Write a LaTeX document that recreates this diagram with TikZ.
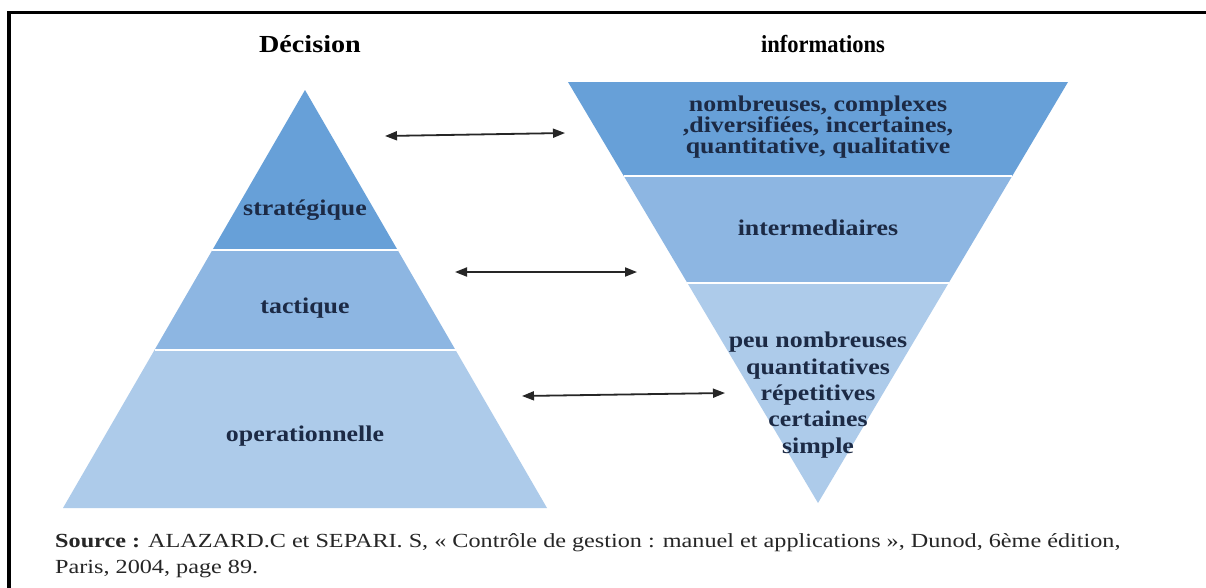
\documentclass[tikz,border=0pt]{standalone}
\usepackage{fontspec}
\setmainfont{Liberation Serif}
\newfontfamily\wideserif{Liberation Serif}[FakeStretch=1.15]
\newfontfamily\narrowserif{Liberation Serif}[FakeStretch=0.92]
\newfontfamily\sourceserif{Liberation Serif}[FakeStretch=1.21]
\usetikzlibrary{arrows.meta}
\definecolor{layerdark}{HTML}{67A0D8}
\definecolor{layermid}{HTML}{8DB6E2}
\definecolor{layerlight}{HTML}{ADCBEA}
\definecolor{labelink}{HTML}{1C2A45}
\begin{document}
\begin{tikzpicture}[x=1pt,y=-1pt,
  divider/.style={white,line width=2.5pt},
  lbl/.style={inner sep=0pt,text=labelink,font=\wideserif\bfseries\fontsize{22.5}{19}\selectfont,align=center},
  title/.style={inner sep=0pt,text=black,font=\wideserif\bfseries\fontsize{24.5}{26}\selectfont},
  srctext/.style={anchor=base west,inner sep=0pt,font=\sourceserif\fontsize{20}{26}\selectfont,text=black!85},
  link/.style={{Triangle[length=12pt,width=9pt]}-{Triangle[length=12pt,width=9pt]},line width=1.8pt,black!85}]
\useasboundingbox (0,0) rectangle (1206,587);
\fill[white] (0,0) rectangle (1206,587);

% frame
\draw[line width=3.5pt] (9,590) -- (9,12.5) -- (1210,12.5);

% decision pyramid
\fill[layerdark]  (305,90) -- (397.6,250) -- (212.4,250) -- cycle;
\fill[layermid]   (212.4,250) -- (397.6,250) -- (455.5,350) -- (154.5,350) -- cycle;
\fill[layerlight] (154.5,350) -- (455.5,350) -- (547,508) -- (63,508) -- cycle;
\draw[divider] (212.4,250) -- (397.6,250);
\draw[divider] (154.5,350) -- (455.5,350);

% information funnel
\fill[layerdark]  (568,82) -- (1068,82) -- (1012.2,176) -- (623.8,176) -- cycle;
\fill[layermid]   (623.8,176) -- (1012.2,176) -- (948.6,283) -- (687.4,283) -- cycle;
\fill[layerlight] (687.4,283) -- (948.6,283) -- (818,503) -- cycle;
\draw[divider] (623.8,176) -- (1012.2,176);
\draw[divider] (687.4,283) -- (948.6,283);

% titles
\node[title,anchor=base] (tdec) at (310,52) {Décision};
\node[title,anchor=base,font=\narrowserif\bfseries\fontsize{24.5}{26}\selectfont] (tinf) at (823,52) {informations};

% layer labels
\node[lbl,anchor=base] (strat) at (305,215) {stratégique};
\node[lbl,anchor=base] (tact)  at (305,313) {tactique};
\node[lbl,anchor=base] (oper)  at (305,441) {operationnelle};

\node[lbl,anchor=base] (inf1) at (818,153) {nombreuses, complexes\\,diversifiées, incertaines,\\quantitative, qualitative};
\node[lbl,anchor=base] (inf2) at (818,235) {intermediaires};
\node[lbl,anchor=base,font=\wideserif\bfseries\fontsize{22.5}{26.3}\selectfont] (inf3) at (818,453)
  {peu nombreuses\\quantitatives\\répetitives\\certaines\\simple};

% links between levels
\coordinate (l1a) at (385,136);
\coordinate (l1b) at (565,133);
\coordinate (l2a) at (455,272);
\coordinate (l2b) at (637,272);
\coordinate (l3a) at (522,396);
\coordinate (l3b) at (725,393);
\draw[link] (l1a) -- (l1b);
\draw[link] (l2a) -- (l2b);
\draw[link] (l3a) -- (l3b);

% source
\node[srctext] (src1) at (55,547)
  {\textbf{Source :} ALAZARD.C et SEPARI. S, « Contrôle de gestion : manuel et applications », Dunod, 6ème édition,};
\node[srctext] (src2) at (55,573) {Paris, 2004, page 89.};
\end{tikzpicture}
\end{document}
